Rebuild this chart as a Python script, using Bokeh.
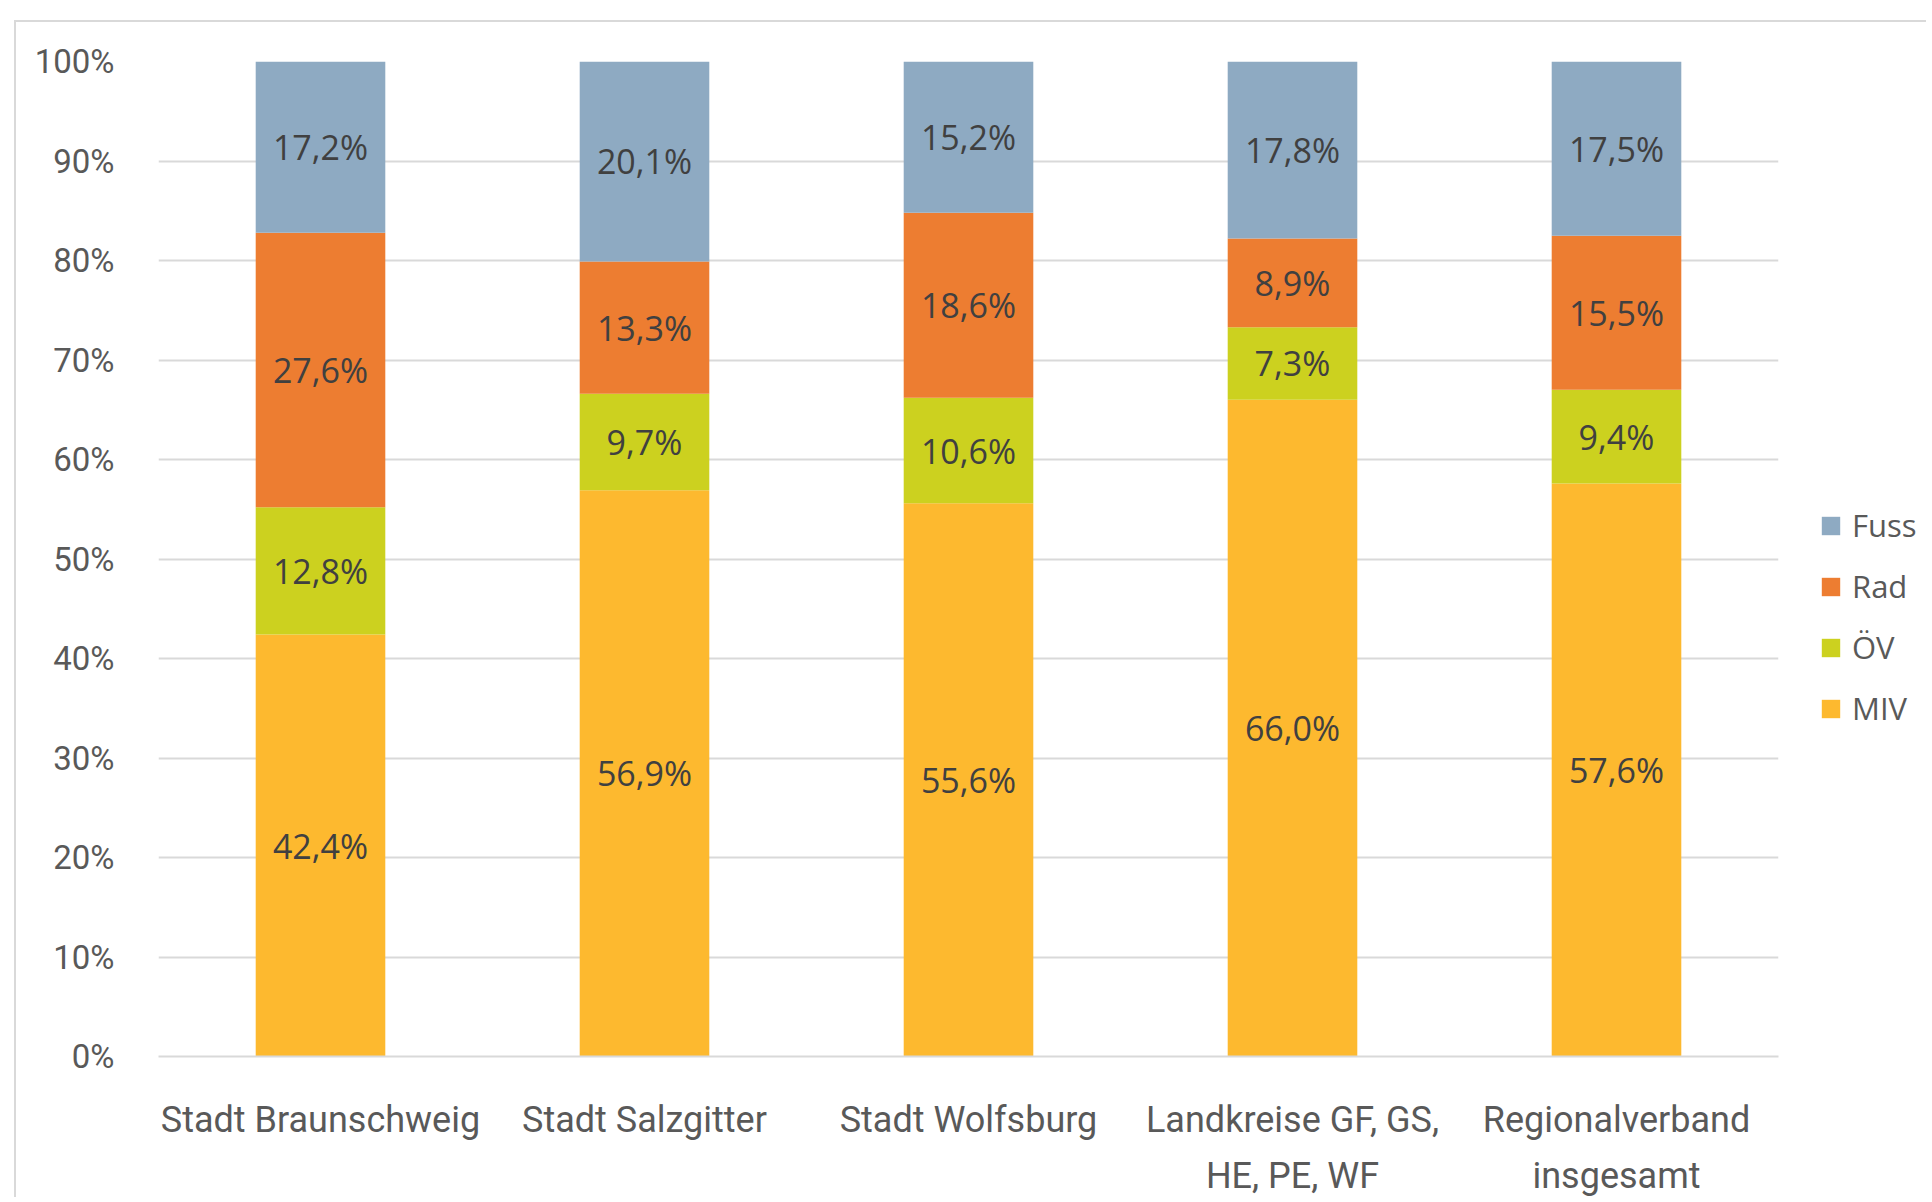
from bokeh.plotting import figure
from bokeh.layouts import row
from bokeh.models import (ColumnDataSource, FixedTicker, LabelSet, Legend, LegendItem,
                          Range1d, FactorRange, CategoricalAxis)
from bokeh.embed import file_html
from bokeh.resources import INLINE
from bokeh.core.properties import value

# ---- data ----
categories = ["Stadt Braunschweig", "Stadt Salzgitter", "Stadt Wolfsburg",
              "Landkreise GF, GS, HE, PE, WF", "Regionalverband insgesamt"]
label_line1 = ["Stadt Braunschweig", "Stadt Salzgitter", "Stadt Wolfsburg",
               "Landkreise GF, GS,", "Regionalverband"]
label_line2 = [" ", "  ", "   ", "HE, PE, WF", "insgesamt"]
modes = ["MIV", "ÖV", "Rad", "Fuss"]
legend_order = ["Fuss", "Rad", "ÖV", "MIV"]
miv = [42.4, 56.9, 55.6, 66.0, 57.6]
oev = [12.8, 9.7, 10.6, 7.3, 9.4]
rad = [27.6, 13.3, 18.6, 8.9, 15.5]
fuss = [17.2, 20.1, 15.2, 17.8, 17.5]
y_ticks = [0, 10, 20, 30, 40, 50, 60, 70, 80, 90, 100]

colors = {"MIV": "#FDB92F", "ÖV": "#CCD11F", "Rad": "#ED7D31", "Fuss": "#8EAAC2"}
series = {"MIV": miv, "ÖV": oev, "Rad": rad, "Fuss": fuss}

AX_FONT = "Roboto"
LBL_FONT = "Open Sans"
AX_COLOR = "#595959"
BORDER = "2px solid #d9d9d9"
H = 1177

src = ColumnDataSource(dict(cat=categories, MIV=miv, **{"ÖV": oev}, Rad=rad, Fuss=fuss))

p = figure(x_range=categories, y_range=Range1d(0, 100), x_axis_location=None,
           width=1772, height=H, output_backend="svg", toolbar_location=None,
           min_border_left=142, min_border_top=39, min_border_right=10, min_border_bottom=141)
p.margin = (20, 0, 0, 14)
p.styles = {"border-left": BORDER, "border-top": BORDER}
p.outline_line_color = None

p.vbar_stack(modes, x="cat", width=0.4, source=src,
             color=[colors[m] for m in modes], line_color=None)

# data labels centered in each segment
lx, ly, lt = [], [], []
base = [0.0] * len(categories)
for m in modes:
    vals = series[m]
    for i, c in enumerate(categories):
        lx.append(c)
        ly.append(base[i] + vals[i] / 2)
        lt.append(f"{vals[i]:.1f}".replace(".", ",") + "%")
        base[i] += vals[i]
lsrc = ColumnDataSource(dict(x=lx, y=ly, t=lt))
p.add_layout(LabelSet(x="x", y="y", text="t", source=lsrc, text_align="center",
                      text_baseline="middle", text_font=value(LBL_FONT),
                      text_font_size="34px", text_color="#404040"))

# y axis
p.yaxis.ticker = FixedTicker(ticks=y_ticks)
p.yaxis.major_label_overrides = {t: f"{t}%" for t in y_ticks}
p.yaxis.axis_line_color = None
p.yaxis.major_tick_line_color = None
p.yaxis.minor_tick_line_color = None
p.yaxis.major_tick_out = 0
p.yaxis.major_label_standoff = 44
p.yaxis.major_label_text_font = AX_FONT
p.yaxis.major_label_text_font_size = "33px"
p.yaxis.major_label_text_color = AX_COLOR

# x axis labels in two lines (two stacked category axes)
p.extra_x_ranges = {"l1": FactorRange(factors=label_line1),
                    "l2": FactorRange(factors=label_line2)}
ax1 = CategoricalAxis(x_range_name="l1", axis_line_color="#d9d9d9", axis_line_width=2,
                      major_tick_line_color=None, major_tick_out=0,
                      major_label_standoff=42, major_label_text_font=AX_FONT,
                      major_label_text_font_size="36px", major_label_text_color=AX_COLOR)
ax2 = CategoricalAxis(x_range_name="l2", axis_line_color=None,
                      major_tick_line_color=None, major_tick_out=0,
                      major_label_standoff=11, major_label_text_font=AX_FONT,
                      major_label_text_font_size="36px", major_label_text_color=AX_COLOR)
p.add_layout(ax1, "below")
p.add_layout(ax2, "below")

p.xgrid.grid_line_color = None
p.ygrid.grid_line_color = "#d9d9d9"
p.ygrid.grid_line_width = 2
p.ygrid.level = "underlay"

# legend in its own small panel to the right of the plot area
pl = figure(width=140, height=H, output_backend="svg", toolbar_location=None,
            x_range=FactorRange(factors=categories), y_range=Range1d(0, 100),
            min_border=0, x_axis_location=None, y_axis_location=None)
pl.margin = (20, 0, 0, 0)
pl.styles = {"border-top": BORDER}
pl.outline_line_color = None
pl.grid.visible = False
leg_rs = pl.vbar_stack(modes, x="cat", width=0.4, source=src,
                       color=[colors[m] for m in modes], line_color=None)
for r in leg_rs:
    r.visible = False
leg_r = dict(zip(modes, leg_rs))
legend = Legend(items=[LegendItem(label=m, renderers=[leg_r[m]]) for m in legend_order],
                location=(33, 327), orientation="vertical",
                glyph_width=23, glyph_height=23, label_height=23, spacing=19,
                label_standoff=10, padding=0, margin=0,
                border_line_color=None, background_fill_alpha=0,
                inactive_fill_alpha=0,
                label_text_font=LBL_FONT, label_text_font_size="31px",
                label_text_color=AX_COLOR)
pl.add_layout(legend, "center")

layout = row(p, pl)
open("out.html", "w").write(file_html(layout, INLINE))
